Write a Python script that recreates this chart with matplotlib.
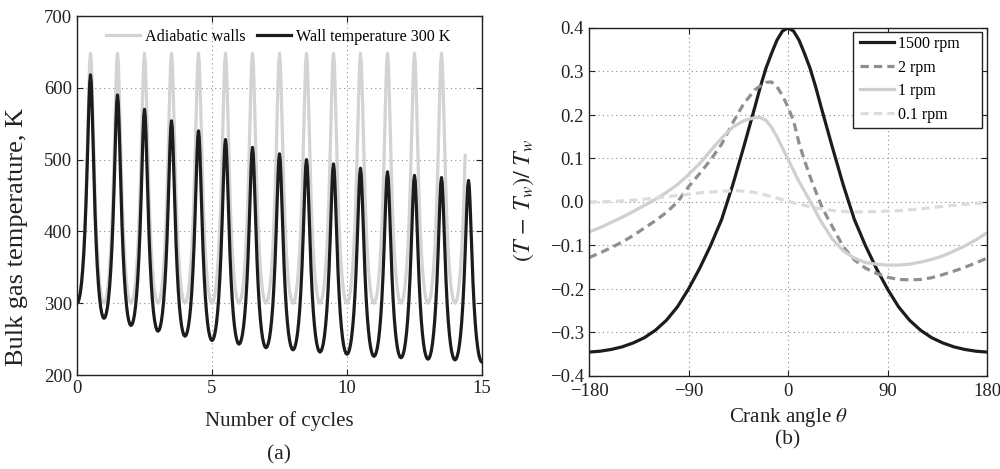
import matplotlib
matplotlib.use('Agg')
import matplotlib.pyplot as plt
from matplotlib.patches import Rectangle
import numpy as np

plt.rcParams['font.family'] = ['Liberation Serif', 'DejaVu Serif']
plt.rcParams['mathtext.fontset'] = 'stix'
plt.rcParams['axes.unicode_minus'] = True

# ---------------- data: panel (a) ----------------
n_cycles = 15
adiabatic_peak = 648.0
adiabatic_min = 300.0
adiabatic_end_cycle = 14.38          # adiabatic trace stops here
wall_peaks = [618, 590, 570, 554, 540, 528, 517, 508, 500, 494, 488, 483, 478, 475, 471]
wall_mins = [300, 279, 269, 261, 254, 248, 243, 238, 235, 232, 229, 226, 224, 222, 221, 218]
# normalized shape of one half cycle (crank degrees from the peak)
phase_deg = [0, 10, 20, 30, 45, 60, 75, 90, 105, 120, 135, 150, 165, 180]
profile = [1.0, 0.968, 0.883, 0.769, 0.592, 0.436, 0.312, 0.215, 0.142, 0.087, 0.047, 0.021, 0.005, 0.0]

# ---------------- data: panel (b) ----------------
theta_1500 = [-180, -170, -160, -150, -140, -130, -120, -110, -100, -90, -80, -70, -60, -50, -40, -30, -25, -20, -15, -10, -5, 0,
              5, 10, 15, 20, 25, 30, 40, 50, 60, 70, 80, 90, 100, 110, 120, 130, 140, 150, 160, 170, 180]
ratio_1500 = [-0.345, -0.343, -0.339, -0.333, -0.324, -0.312, -0.295, -0.272, -0.241, -0.200, -0.153, -0.100, -0.040, 0.039, 0.127, 0.218, 0.265, 0.307, 0.341, 0.372, 0.393, 0.400,
              0.393, 0.372, 0.341, 0.307, 0.265, 0.218, 0.127, 0.039, -0.040, -0.100, -0.153, -0.200, -0.241, -0.272, -0.295, -0.312, -0.324, -0.333, -0.339, -0.343, -0.345]

theta_2 = [-180, -170, -160, -150, -140, -130, -120, -110, -100, -90, -80, -70, -60, -50, -40, -30, -20, -15, -10, -5, 0,
           5, 10, 15, 20, 25, 30, 35, 40, 50, 60, 70, 80, 90, 100, 110, 120, 130, 140, 150, 160, 170, 180]
ratio_2 = [-0.128, -0.117, -0.105, -0.092, -0.077, -0.060, -0.043, -0.024, 0.000, 0.035, 0.065, 0.097, 0.133, 0.182, 0.226, 0.258, 0.275, 0.276, 0.265, 0.245, 0.218,
           0.187, 0.135, 0.095, 0.058, 0.025, -0.007, -0.033, -0.056, -0.103, -0.133, -0.152, -0.164, -0.173, -0.178, -0.179, -0.178, -0.174, -0.167, -0.159, -0.150, -0.140, -0.129]

theta_1 = [-180, -170, -160, -150, -140, -130, -120, -110, -100, -90, -80, -70, -60, -50, -40, -30, -25, -20, -15, -10, -5, 0,
           10, 20, 30, 40, 50, 60, 70, 80, 90, 100, 110, 120, 130, 140, 150, 160, 170, 180]
ratio_1 = [-0.069, -0.059, -0.047, -0.035, -0.022, -0.008, 0.006, 0.022, 0.040, 0.063, 0.088, 0.118, 0.147, 0.172, 0.187, 0.194, 0.194, 0.188, 0.172, 0.150, 0.124, 0.098,
           0.047, 0.002, -0.045, -0.085, -0.112, -0.129, -0.139, -0.143, -0.145, -0.145, -0.143, -0.138, -0.132, -0.124, -0.113, -0.101, -0.087, -0.071]

theta_01 = [-180, -160, -140, -120, -100, -80, -60, -45, -30, -20, -10, 0, 10, 20, 30, 45, 60, 80, 100, 120, 140, 160, 180]
ratio_01 = [0.000, 0.001, 0.004, 0.009, 0.015, 0.021, 0.025, 0.026, 0.022, 0.016, 0.009, 0.002, -0.005, -0.011, -0.016, -0.021, -0.023, -0.022, -0.020, -0.016, -0.010, -0.005, -0.001]

legend_a = ['Adiabatic walls', 'Wall temperature 300 K']
legend_b = ['1500 rpm', '2 rpm', '1 rpm', '0.1 rpm']

# ---------------- build cycle traces from the read values ----------------
ph = np.array(phase_deg) / 360.0
pr = np.array(profile)


def cycle_trace(peaks, mins):
    xs, ys = [], []
    for k in range(len(peaks)):
        # rise from mins[k] to peaks[k]
        xs.append(k + 0.5 - ph[::-1])
        ys.append(mins[k] + (peaks[k] - mins[k]) * pr[::-1])
        # fall from peaks[k] to mins[k+1]
        xs.append(k + 0.5 + ph[1:])
        ys.append(mins[k + 1] + (peaks[k] - mins[k + 1]) * pr[1:])
    return np.concatenate(xs), np.concatenate(ys)


xa, ya = cycle_trace([adiabatic_peak] * n_cycles, [adiabatic_min] * (n_cycles + 1))
keep = xa <= adiabatic_end_cycle
xa, ya = xa[keep], ya[keep]
xw, yw = cycle_trace(wall_peaks, wall_mins)

# ---------------- figure ----------------
fig = plt.figure(figsize=(10, 4.69), dpi=100)
W, H = 1000.0, 469.0


def px(x, y):
    return x / W, 1 - y / H


ax1 = fig.add_axes([77 / W, 1 - 375 / H, 405 / W, 359 / H])
ax2 = fig.add_axes([589 / W, 1 - 376 / H, 398 / W, 348 / H])

grid_kw = dict(color='#8a8a8a', linestyle=(0, (1, 3)), linewidth=0.8)

for ax in (ax1, ax2):
    ax.tick_params(direction='in', top=True, right=True, length=4, width=0.8,
                   labelsize=13.5, colors='#222222')
    for s in ax.spines.values():
        s.set_linewidth(1.0)
        s.set_color('#222222')
    ax.grid(True, **grid_kw)
    ax.set_axisbelow(True)
ax2.tick_params(axis='x', pad=5)

# panel (a)
ax1.plot(xa, ya, color='#d3d3d3', lw=2.3, label=legend_a[0])
ax1.plot(xw, yw, color='#1c1c1c', lw=2.3, label=legend_a[1])
ax1.set_xlim(0, 15)
ax1.set_ylim(200, 700)
ax1.set_xticks([0, 5, 10, 15])
ax1.set_yticks([200, 300, 400, 500, 600, 700])
ax1.legend(loc='upper center', ncol=2, frameon=False, fontsize=11.6,
           handlelength=2.1, handletextpad=0.3, columnspacing=0.7,
           bbox_to_anchor=(0.497, 0.995), borderaxespad=0.3)

# panel (b)
ax2.plot(theta_1500, ratio_1500, color='#1c1c1c', lw=2.3, label=legend_b[0])
ax2.plot(theta_2, ratio_2, color='#8f8f8f', lw=2.3, linestyle=(0, (2.6, 1.6)), label=legend_b[1])
ax2.plot(theta_1, ratio_1, color='#cfcfcf', lw=2.3, label=legend_b[2])
ax2.plot(theta_01, ratio_01, color='#dcdcdc', lw=2.3, linestyle=(0, (2.6, 1.6)), label=legend_b[3])
ax2.set_xlim(-180, 180)
ax2.set_ylim(-0.4, 0.4)
ax2.set_xticks([-180, -90, 0, 90, 180])
ax2.set_yticks(np.round(np.arange(-0.4, 0.41, 0.1), 1))


def fmt_b(v, p):
    if abs(v) < 1e-9:
        return '0.0'
    return ('%.1f' % v).replace('-', '\u2212')


ax2.yaxis.set_major_formatter(matplotlib.ticker.FuncFormatter(fmt_b))

# legend box (MATLAB-like, with extra room on the right)
bx0, bx1, by0, by1 = 853, 982, 32, 128
ax2.add_patch(Rectangle(((bx0 - 589) / 398, (376 - by1) / 348), (bx1 - bx0) / 398, (by1 - by0) / 348,
                        transform=ax2.transAxes, facecolor='white', edgecolor='#222222',
                        linewidth=1.0, zorder=4))
leg = ax2.legend(loc='upper left', bbox_to_anchor=((860 - 589) / 398, (376 - 36) / 348),
                 frameon=False, fontsize=11.5, handlelength=2.1, handletextpad=0.3,
                 borderpad=0, borderaxespad=0, labelspacing=0.47)
leg.set_zorder(5)

# labels
fig.text(*px(279, 421), 'Number of cycles', ha='center', va='center', fontsize=15, color='#222222')
fig.text(*px(279, 455), '(a)', ha='center', va='center', fontsize=15.5, color='#222222')
fig.text(*px(788, 417), r'Crank angle $\theta$', ha='center', va='center', fontsize=15, color='#222222')
fig.text(*px(788, 440), '(b)', ha='center', va='center', fontsize=15.5, color='#222222')
fig.text(*px(17, 237), 'Bulk gas temperature, K', ha='center', va='center', rotation=90,
         fontsize=19, color='#222222')
fig.text(*px(524, 200), r'$(T\,-\,T_w)/\;T_w$', ha='center', va='center', rotation=90,
         fontsize=17.5, color='#222222')

fig.savefig('out.png', dpi=100)
